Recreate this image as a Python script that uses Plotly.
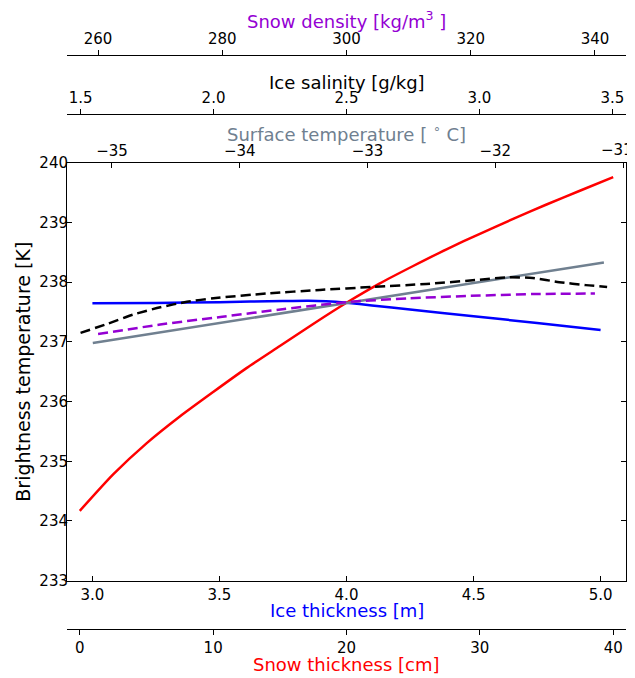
import plotly.graph_objects as go

# ---- data ----
ice_thickness = [3.0, 3.25, 3.5, 3.75, 3.85, 3.92, 4.0, 4.1, 4.25, 4.5, 4.75, 5.0]
tb_ice = [237.645, 237.65, 237.665, 237.685, 237.69, 237.68, 237.655, 237.61, 237.54, 237.43, 237.315, 237.2]

snow_thickness = [0, 2.5, 5, 7.5, 10, 12.5, 15, 17.5, 20, 22.5, 25, 27.5, 30, 32.5, 35, 37.5, 40]
tb_snow = [234.17, 234.78, 235.30, 235.75, 236.16, 236.56, 236.93, 237.30, 237.655,
           237.98, 238.27, 238.55, 238.81, 239.06, 239.30, 239.53, 239.76]

surface_temp = [-35.15, -34.15, -33.15, -32.15, -31.15]
tb_temp = [236.98, 237.32, 237.655, 237.99, 238.33]

ice_salinity = [1.5, 1.6, 1.7, 1.8, 1.9, 2.0, 2.2, 2.4, 2.6, 2.8, 3.0, 3.1, 3.2, 3.3, 3.4, 3.48]
tb_salinity = [237.15, 237.30, 237.46, 237.58, 237.67, 237.73, 237.81, 237.87, 237.92,
               237.97, 238.04, 238.08, 238.07, 238.00, 237.95, 237.92]

snow_density = [260, 270, 280, 290, 300, 310, 320, 330, 340]
tb_density = [237.13, 237.29, 237.42, 237.55, 237.665, 237.73, 237.77, 237.80, 237.81]

ice_ticks = [3.0, 3.5, 4.0, 4.5, 5.0]
snow_ticks = [0, 10, 20, 30, 40]
temp_ticks = [-35, -34, -33, -32, -31]
# the last label is drawn as an annotation, nudged left to stay inside the window
temp_labels = ["\u221235", "\u221234", "\u221233", "\u221232", ""]
temp_last_label = "\u221231"
sal_ticks = [1.5, 2.0, 2.5, 3.0, 3.5]
dens_ticks = [260, 280, 300, 320, 340]
tb_ticks = [233, 234, 235, 236, 237, 238, 239, 240]

C_ICE = "#0000ff"
C_SNOW = "#ff0000"
C_TEMP = "#708090"
C_SAL = "#000000"
C_DENS = "#9400d3"

FONT = "DejaVu Sans"
TICKF = dict(family=FONT, size=15, color="black")
TITLEF = 18

fig = go.Figure()
fig.add_trace(go.Scatter(x=ice_thickness, y=tb_ice, mode="lines", xaxis="x", yaxis="y",
                         line=dict(color=C_ICE, width=2.5, shape="spline", smoothing=0.6), name="Ice thickness"))
fig.add_trace(go.Scatter(x=snow_thickness, y=tb_snow, mode="lines", xaxis="x2", yaxis="y",
                         line=dict(color=C_SNOW, width=2.5, shape="spline", smoothing=0.6), name="Snow thickness"))
fig.add_trace(go.Scatter(x=surface_temp, y=tb_temp, mode="lines", xaxis="x3", yaxis="y",
                         line=dict(color=C_TEMP, width=2.5), name="Surface temperature"))
fig.add_trace(go.Scatter(x=ice_salinity, y=tb_salinity, mode="lines", xaxis="x4", yaxis="y",
                         line=dict(color=C_SAL, width=2.5, dash="10px,5px", shape="spline", smoothing=0.6),
                         name="Ice salinity"))
fig.add_trace(go.Scatter(x=snow_density, y=tb_density, mode="lines", xaxis="x5", yaxis="y",
                         line=dict(color=C_DENS, width=2.5, dash="10px,5px", shape="spline", smoothing=0.6),
                         name="Snow density"))

common = dict(showgrid=False, zeroline=False, showline=True, linecolor="black", linewidth=1,
              tickcolor="black", ticklen=5, tickwidth=1, tickfont=TICKF, automargin=False,
              ticklabeloverflow="allow")

# figure is offset by the page's 8px body margin, so it is sized to end at the window edge
fig.update_layout(
    width=627, height=670,
    margin=dict(l=59, r=9, t=12, b=20),
    paper_bgcolor="white", plot_bgcolor="white",
    showlegend=False,
    font=dict(family=FONT, color="black"),
    yaxis=dict(domain=[0.1212, 0.7763], range=[233, 240], tickvals=tb_ticks,
               ticks="inside", mirror="ticks", ticklabelstandoff=-5,
               title=dict(text="Brightness temperature [K]", font=dict(size=19, color="black"), standoff=3),
               **common),
    xaxis=dict(domain=[0, 1], range=[2.9, 5.1], tickvals=ice_ticks, ticktext=["3.0", "3.5", "4.0", "4.5", "5.0"],
               ticks="inside", anchor="y", side="bottom", **common),
    xaxis2=dict(domain=[0, 1], range=[-0.96, 40.96], tickvals=snow_ticks,
                ticks="outside", anchor="free", position=0.045, overlaying="x", side="bottom", **common),
    xaxis3=dict(domain=[0, 1], range=[-35.352, -30.977], tickvals=temp_ticks, ticktext=temp_labels,
                ticks="inside", anchor="y", overlaying="x", side="top", **common),
    xaxis4=dict(domain=[0, 1], range=[1.449, 3.551], tickvals=sal_ticks, ticktext=["1.5", "2.0", "2.5", "3.0", "3.5"],
                ticks="outside", anchor="free", position=0.8522, overlaying="x", side="top", **common),
    xaxis5=dict(domain=[0, 1], range=[255, 345], tickvals=dens_ticks,
                ticks="outside", anchor="free", position=0.9451, overlaying="x", side="top", **common),
)

titles = [
    ("Snow density [kg/m<sup>3</sup> ]", C_DENS, 1.0),
    ("Ice salinity [g/kg]", C_SAL, 0.9028),
    ("Surface temperature [ <sup>∘</sup> C]", C_TEMP, 0.8229),
    ("Ice thickness [m]", C_ICE, 0.0752),
    ("Snow thickness [cm]", C_SNOW, -0.0109),
]
for text, col, ypos in titles:
    fig.add_annotation(text=text, x=0.5, y=ypos, xref="paper", yref="paper",
                       xanchor="center", yanchor="middle", showarrow=False, borderpad=0,
                       font=dict(family=FONT, size=TITLEF, color=col))

fig.add_annotation(text=temp_last_label, x=0.9839, y=0.7965, xref="paper", yref="paper",
                   xanchor="center", yanchor="middle", showarrow=False, borderpad=0,
                   font=TICKF)

fig.write_html("out.html")
